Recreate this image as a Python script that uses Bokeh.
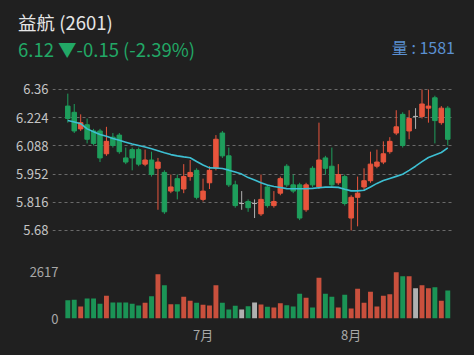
from bokeh.plotting import figure
from bokeh.layouts import column
from bokeh.models import ColumnDataSource, FixedTicker, Range1d, Div
from bokeh.embed import file_html
from bokeh.resources import INLINE

# ---- data ----
opens = [6.28, 6.25, 6.17, 6.19, 6.16, 6.16, 6.05, 6.13, 6.14, 6.03,
         6.07, 6.07, 6.00, 6.02, 5.98, 5.96, 5.87, 5.93, 5.88, 5.94,
         5.97, 5.83, 5.91, 5.98, 6.15, 6.04, 5.90, 5.81, 5.82, 5.81,
         5.76, 5.89, 5.80, 5.86, 5.99, 5.90, 5.90, 5.78, 5.98, 5.89,
         6.03, 5.99, 5.91, 5.94, 5.74, 5.84, 5.89, 5.92, 5.99, 6.01,
         6.06, 6.15, 6.24, 6.16, 6.23, 6.23, 6.27, 6.32, 6.20, 6.27]
highs = [6.34, 6.29, 6.24, 6.22, 6.17, 6.17, 6.18, 6.15, 6.15, 6.08,
         6.08, 6.08, 6.07, 6.06, 6.03, 5.97, 5.95, 5.95, 6.00, 6.02,
         5.98, 5.93, 5.99, 6.14, 6.16, 6.08, 5.92, 5.87, 5.83, 5.83,
         5.95, 5.90, 5.87, 5.94, 6.00, 5.95, 5.91, 5.91, 5.99, 6.20,
         6.04, 6.08, 6.00, 5.95, 5.85, 5.94, 5.98, 6.06, 6.07, 6.11,
         6.13, 6.26, 6.25, 6.26, 6.27, 6.36, 6.36, 6.33, 6.28, 6.28]
lows = [6.20, 6.15, 6.16, 6.10, 6.09, 6.01, 6.04, 6.08, 6.05, 6.00,
        5.97, 5.99, 5.99, 5.94, 5.78, 5.76, 5.86, 5.83, 5.86, 5.92,
        5.83, 5.82, 5.88, 5.97, 6.03, 5.89, 5.79, 5.78, 5.77, 5.74,
        5.75, 5.79, 5.79, 5.85, 5.89, 5.86, 5.73, 5.77, 5.89, 5.88,
        5.95, 5.89, 5.90, 5.80, 5.68, 5.70, 5.87, 5.91, 5.98, 6.00,
        6.05, 6.14, 6.08, 6.12, 6.17, 6.22, 6.20, 6.10, 6.19, 6.09]
closes = [6.22, 6.16, 6.20, 6.12, 6.10, 6.03, 6.11, 6.09, 6.06, 6.01,
          6.03, 6.00, 6.02, 5.95, 6.01, 5.77, 5.89, 5.87, 5.94, 5.96,
          5.84, 5.87, 5.97, 6.12, 6.04, 5.90, 5.80, 5.81, 5.79, 5.81,
          5.83, 5.80, 5.82, 5.93, 5.90, 5.87, 5.74, 5.90, 5.90, 6.02,
          5.98, 5.90, 5.95, 5.81, 5.84, 5.86, 5.92, 6.00, 6.01, 6.05,
          6.11, 6.18, 6.09, 6.22, 6.23, 6.29, 6.28, 6.21, 6.27, 6.12]
volumes = [1035, 1055, 680, 1130, 1130, 830, 1280, 905, 905, 905,
           830, 735, 885, 1260, 2505, 1880, 810, 810, 1225, 1000,
           885, 775, 735, 1880, 885, 510, 715, 510, 695, 905,
           790, 660, 620, 865, 750, 680, 1395, 1170, 620, 2300,
           1395, 1225, 620, 1340, 565, 1680, 885, 1510, 680, 1280,
           1375, 2617, 2390, 2390, 1710, 1880, 1710, 1770, 1000, 1581]
ma_line = [6.210, 6.203, 6.195, 6.170, 6.156, 6.143, 6.134, 6.124, 6.115, 6.106,
           6.097, 6.090, 6.083, 6.074, 6.065, 6.055, 6.046, 6.040, 6.035, 6.031,
           6.013, 5.996, 5.982, 5.981, 5.979, 5.971, 5.962, 5.952, 5.935, 5.923,
           5.910, 5.899, 5.892, 5.887, 5.882, 5.881, 5.881, 5.881, 5.883, 5.886,
           5.889, 5.889, 5.888, 5.879, 5.871, 5.871, 5.874, 5.890, 5.907, 5.921,
           5.931, 5.941, 5.951, 5.970, 5.990, 6.012, 6.032, 6.044, 6.056, 6.078]
price_ticks = [5.68, 5.816, 5.952, 6.088, 6.224, 6.36]
price_tick_labels = ["5.68", "5.816", "5.952", "6.088", "6.224", "6.36"]
volume_ticks = [0, 2617]
month_ticks = [21, 44]
month_labels = ["7月", "8月"]
title_text = "益航 (2601)"
change_text = "6.12 ▼-0.15 (-2.39%)"
volume_text = "量 : 1581"

# ---- styling ----
BG = "#202020"
UP = "#e8553d"
DOWN = "#1e9e5c"
FLAT = "#b0b0b0"
VUP = "#c9503d"
VDOWN = "#1b9456"
MA_COLOR = "#3dbfd2"
FONT = "Noto Sans CJK TC"

idx = list(range(len(opens)))
colors, vcolors = [], []
for o, c in zip(opens, closes):
    if c > o:
        colors.append(UP); vcolors.append(VUP)
    elif c < o:
        colors.append(DOWN); vcolors.append(VDOWN)
    else:
        colors.append(FLAT); vcolors.append(FLAT)

src = ColumnDataSource(dict(
    x=idx, open=opens, high=highs, low=lows, close=closes,
    top=[max(o, c) for o, c in zip(opens, closes)],
    bottom=[min(o, c) for o, c in zip(opens, closes)],
    vol=volumes, ma=ma_line, color=colors, vcolor=vcolors,
))

# ---- header ----
header = Div(
    text=(
        f'<div style="position:relative;width:474px;height:60px;background:{BG};'
        f'font-family:\'{FONT}\';line-height:1;">'
        f'<span style="position:absolute;left:18px;top:13px;font-size:18.5px;color:#e6e6e6;white-space:nowrap;">{title_text}</span>'
        f'<span style="position:absolute;left:18px;top:40px;font-size:18.5px;color:#22a866;white-space:nowrap;">{change_text}</span>'
        f'<span style="position:absolute;right:19px;top:39px;font-size:16px;color:#5b90d2;white-space:nowrap;">{volume_text}</span>'
        '</div>'
    ),
    width=474, height=60, margin=(0, 0, 0, 0),
    styles={"background-color": BG},
)

# ---- price panel ----
p1 = figure(width=474, height=195, output_backend="svg", toolbar_location=None,
            x_range=Range1d(-2.376, 59.89), y_range=Range1d(5.6317, 6.4516),
            min_border_left=52, min_border_right=21, min_border_top=10,
            min_border_bottom=15)
p1.background_fill_color = BG
p1.border_fill_color = BG
p1.outline_line_color = None
p1.xaxis.visible = False
p1.xgrid.grid_line_color = None
p1.ygrid.ticker = FixedTicker(ticks=price_ticks)
p1.ygrid.grid_line_color = "#6a6a6a"
p1.ygrid.grid_line_dash = "3 3"
p1.yaxis.ticker = FixedTicker(ticks=price_ticks)
p1.yaxis.major_label_overrides = {t: s for t, s in zip(price_ticks, price_tick_labels)}
p1.yaxis.axis_line_color = None
p1.yaxis.major_tick_line_color = None
p1.yaxis.minor_tick_line_color = None
p1.yaxis.major_tick_out = 0
p1.yaxis.major_label_standoff = 4
p1.yaxis.major_label_text_color = "#c4c4c4"
p1.yaxis.major_label_text_font = FONT
p1.yaxis.major_label_text_font_size = "13px"

p1.segment(x0="x", y0="high", x1="x", y1="low", color="color", line_width=1, source=src)
p1.vbar(x="x", width=0.7, top="top", bottom="bottom", fill_color="color",
        line_color="color", line_width=1, source=src)
p1.line(x="x", y="ma", color=MA_COLOR, line_width=1.6, source=src)

# ---- volume panel ----
p2 = figure(width=474, height=100, output_backend="svg", toolbar_location=None,
            x_range=Range1d(-2.376, 59.89), y_range=Range1d(0, 3052),
            min_border_left=52, min_border_right=21, min_border_top=9,
            min_border_bottom=37)
p2.background_fill_color = BG
p2.border_fill_color = BG
p2.outline_line_color = None
p2.grid.grid_line_color = None
p2.vbar(x="x", width=0.76, top="vol", bottom=0, fill_color="vcolor",
        line_color=None, source=src)
p2.yaxis.ticker = FixedTicker(ticks=volume_ticks)
p2.yaxis.axis_line_color = None
p2.yaxis.major_tick_line_color = None
p2.yaxis.minor_tick_line_color = None
p2.yaxis.major_tick_out = 0
p2.yaxis.major_label_standoff = -6
p2.yaxis.major_label_text_color = "#a8a8a8"
p2.yaxis.major_label_text_font = FONT
p2.yaxis.major_label_text_font_size = "13px"
p2.xaxis.ticker = FixedTicker(ticks=month_ticks)
p2.xaxis.major_label_overrides = {t: s for t, s in zip(month_ticks, month_labels)}
p2.xaxis.axis_line_color = None
p2.xaxis.major_tick_line_color = None
p2.xaxis.minor_tick_line_color = None
p2.xaxis.major_tick_out = 0
p2.xaxis.major_label_standoff = 6
p2.xaxis.major_label_text_color = "#a8a8a8"
p2.xaxis.major_label_text_font = FONT
p2.xaxis.major_label_text_font_size = "13px"

layout = column(header, p1, p2, spacing=0)
layout.styles = {"background-color": BG}

open("out.html", "w").write(file_html(layout, INLINE))
